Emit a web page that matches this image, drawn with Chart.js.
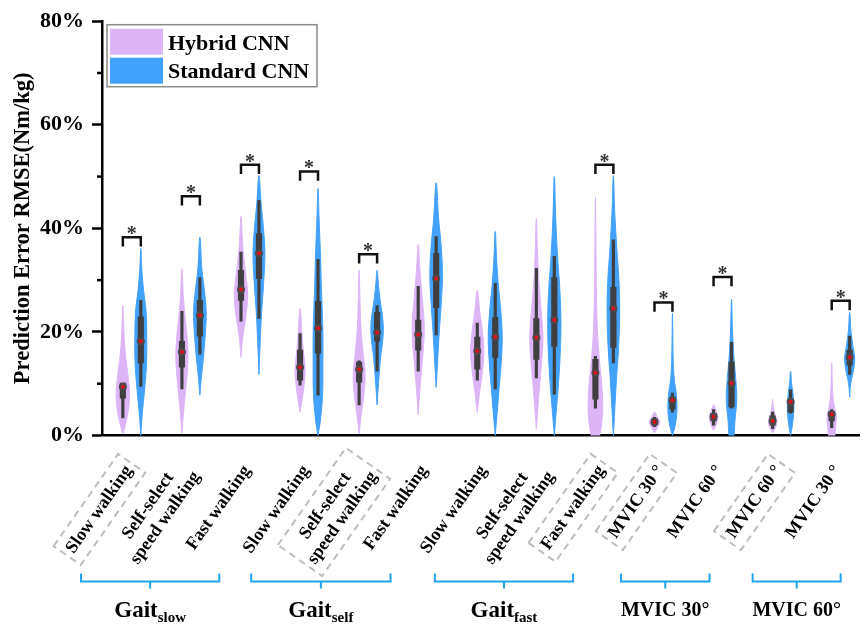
<!DOCTYPE html>
<html lang="en">
<head>
<meta charset="UTF-8">
<title>Prediction Error RMSE</title>
<script src="https://cdn.jsdelivr.net/npm/chart.js"></script>
<style>
  html, body { margin: 0; padding: 0; background: #fff; }
  #wrap { width: 863px; height: 626px; }
</style>
</head>
<body>
<div id="wrap"><canvas id="violinChart" width="863" height="626"></canvas></div>
<script>
// ---- data ----
const categories = [
  'Slow walking', ['Self-select', 'speed walking'], 'Fast walking',
  'Slow walking', ['Self-select', 'speed walking'], 'Fast walking',
  'Slow walking', ['Self-select', 'speed walking'], 'Fast walking',
  'MVIC 30 °', 'MVIC 60 °', 'MVIC 60 °', 'MVIC 30 °'
];
const boxedCategories = [0, 4, 8, 9, 11];
const groupNames = ['Gait', 'Gait', 'Gait', 'MVIC 30°', 'MVIC 60°'];
const groupSubs = ['slow', 'self', 'fast', '', ''];
const seriesNames = ['Hybrid CNN', 'Standard CNN'];
const yTickValues = [0, 20, 40, 60, 80];

// box plot stats (%)
const hybridMedian = [9.4, 16.1, 28.2, 13.2, 12.8, 19.5, 16.3, 18.9, 12.1, 2.6, 3.6, 2.8, 4.1];
const hybridQ1     = [7.2, 13.2, 26.1, 10.7, 10.3, 16.5, 12.8, 14.7, 7.0, 2.0, 2.8, 2.0, 2.8];
const hybridQ3     = [10.1, 18.2, 31.9, 16.5, 14.2, 22.3, 19.0, 22.6, 14.7, 3.2, 4.3, 3.8, 4.6];
const hybridLow    = [3.4, 9.0, 22.1, 9.7, 5.9, 12.4, 10.7, 11.1, 5.3, 1.7, 2.0, 1.3, 1.5];
const hybridHigh   = [10.1, 24.0, 35.4, 19.7, 14.4, 28.8, 21.7, 32.3, 15.3, 3.5, 5.0, 4.5, 5.0];

const standardMedian = [18.2, 23.2, 35.2, 20.7, 19.9, 30.3, 19.0, 22.3, 24.5, 6.8, 10.1, 6.5, 15.1];
const standardQ1     = [14.0, 19.2, 30.3, 15.9, 18.2, 24.7, 15.1, 17.2, 17.0, 5.1, 5.5, 4.5, 13.6];
const standardQ3     = [22.9, 26.1, 39.0, 25.9, 23.8, 35.2, 22.8, 30.5, 28.6, 7.4, 14.2, 7.0, 16.5];
const standardLow    = [9.5, 15.7, 22.6, 7.8, 12.4, 19.4, 9.0, 8.0, 14.0, 4.5, 5.3, 4.3, 11.8];
const standardHigh   = [26.1, 30.5, 45.4, 34.0, 25.1, 38.4, 29.4, 34.6, 37.8, 8.2, 18.0, 8.8, 19.2];

// violin outlines: [value %, relative density]
const hybridShape = [
  [[0.3,0],[2,0.35],[5,0.8],[8.5,0.95],[12,0.7],[16,0.35],[20,0.15],[25.1,0]],
  [[0.5,0],[4,0.2],[9,0.55],[14,0.85],[18,0.8],[23,0.45],[27,0.2],[32.2,0]],
  [[15.1,0],[19,0.25],[23,0.7],[27,0.95],[31,0.7],[35,0.35],[39,0.15],[42.3,0]],
  [[4.5,0],[7,0.3],[10,0.6],[13,0.72],[16,0.5],[19,0.3],[24.5,0]],
  [[0.3,0],[4,0.3],[8,0.7],[12,0.85],[16,0.55],[21,0.25],[26,0.12],[31.9,0]],
  [[4,0],[8,0.2],[13,0.5],[18,0.8],[22,0.85],[27,0.55],[32,0.25],[36.9,0]],
  [[4.5,0],[8,0.3],[12,0.7],[16,0.95],[20,0.75],[24,0.35],[28,0]],
  [[1.3,0],[5,0.2],[10,0.5],[15,0.8],[19,0.95],[24,0.7],[30,0.35],[36,0.15],[41.9,0]],
  [[-2,0],[0,0.6],[3,0.95],[6,1.05],[10,0.9],[15,0.55],[20,0.3],[27,0.15],[35,0.08],[46,0]],
  [[0.5,0],[1.5,0.4],[2.6,0.75],[3.5,0.4],[4.5,0]],
  [[1,0],[2.2,0.4],[3.6,0.6],[4.8,0.35],[5.9,0]],
  [[0.5,0],[1.5,0.4],[2.7,0.6],[4,0.35],[5.5,0.1],[7,0]],
  [[-1.5,0],[0,0.45],[1.5,0.55],[3.5,0.65],[5.5,0.4],[8,0.15],[14,0]]
];
const standardShape = [
  [[0,0],[4,0.2],[9,0.55],[14,0.82],[19,0.85],[24,0.75],[28,0.4],[32,0.15],[36.1,0]],
  [[7.8,0],[11,0.2],[15,0.5],[20,0.8],[24,0.9],[28,0.65],[32,0.3],[38.3,0]],
  [[11.8,0],[17,0.15],[23,0.35],[29,0.65],[35,0.85],[40,0.65],[45,0.3],[50.2,0]],
  [[0,0],[3,0.35],[8,0.65],[14,0.7],[21,0.68],[28,0.5],[35,0.35],[42,0.15],[47.7,0]],
  [[5.9,0],[10,0.2],[15,0.5],[19,0.85],[22,0.85],[26,0.45],[29,0.2],[31.9,0]],
  [[9.3,0],[14,0.2],[20,0.45],[26,0.75],[31,0.9],[36,0.75],[42,0.35],[48.8,0]],
  [[0,0],[4,0.25],[9,0.55],[14,0.85],[19,1.0],[24,0.8],[29,0.45],[34,0.2],[39.4,0]],
  [[0,0],[5,0.3],[10,0.6],[16,0.85],[22,0.95],[28,0.8],[35,0.45],[42,0.2],[50,0]],
  [[0,0],[5,0.2],[11,0.45],[17,0.75],[24,0.9],[30,0.8],[36,0.5],[43,0.2],[50.2,0]],
  [[0,0],[2,0.4],[5,0.65],[8,0.55],[11,0.25],[15,0.1],[23.6,0]],
  [[-2,0],[0,0.35],[3,0.5],[7,0.75],[11,0.6],[15,0.35],[20,0.15],[26.3,0]],
  [[0,0],[2,0.25],[5,0.47],[8,0.35],[10,0.15],[12.4,0]],
  [[7.4,0],[10,0.15],[13,0.6],[15,0.72],[17,0.5],[20,0.2],[23.8,0]]
];

// significance brackets (pair index, bracket height %)
const sigPairs  = [0, 1, 2, 3, 4, 8, 9, 10, 12];
const sigLevels = [38.3, 46.2, 52.3, 51.0, 35.0, 52.3, 25.7, 30.6, 26.0];

// ---- layout / style ----
const SERIF = '"Liberation Serif", "Times New Roman", serif';
const PINK = '#ddb5f7';
const BLUE = '#42a1fa';
const BOX_GREY = '#3f3f3f';
const PAIR_OFFSET = 0.152;   // x units between pair centre and each violin
const WIDTH_UNIT = 0.118;    // x units for density 1
const ARM = 1.8;             // bracket arm length in %
const groupSpans = [[0.14, 2.48], [3.02, 5.38], [6.13, 8.47], [9.28, 10.78], [11.51, 13.0]];

function outline(shape, xc) {
  const right = shape.map(([v, d]) => ({ x: xc + d * WIDTH_UNIT, y: v }));
  const left = shape.slice(0, -1).reverse().map(([v, d]) => ({ x: xc - d * WIDTH_UNIT, y: v }));
  return right.concat(left);
}

const datasets = [];
const series = [
  { shape: hybridShape, med: hybridMedian, q1: hybridQ1, q3: hybridQ3, lo: hybridLow, hi: hybridHigh, color: PINK, off: -PAIR_OFFSET },
  { shape: standardShape, med: standardMedian, q1: standardQ1, q3: standardQ3, lo: standardLow, hi: standardHigh, color: BLUE, off: PAIR_OFFSET }
];

series.forEach((s, si) => {
  s.shape.forEach((shape, i) => {
    datasets.push({
      type: 'line', label: seriesNames[si], data: outline(shape, i + 1 + s.off),
      fill: 'shape', backgroundColor: s.color, borderColor: s.color, borderWidth: 1,
      pointRadius: 0, tension: 0.4, order: 10
    });
  });
  datasets.push({
    type: 'bar', data: s.lo.map((v, i) => ({ x: i + 1 + s.off, y: [v, s.hi[i]] })),
    backgroundColor: BOX_GREY, barThickness: 2.5, maxBarThickness: 2.5, grouped: false, order: 8
  });
  datasets.push({
    type: 'bar', data: s.q1.map((v, i) => ({ x: i + 1 + s.off, y: [v, s.q3[i]] })),
    backgroundColor: BOX_GREY, barThickness: 5.5, maxBarThickness: 5.5, grouped: false, order: 6
  });
  datasets.push({
    type: 'scatter', data: s.med.map((v, i) => ({ x: i + 1 + s.off, y: v })),
    backgroundColor: '#4a4a4a', borderWidth: 0, pointRadius: 4, order: 4
  });
  datasets.push({
    type: 'scatter', data: s.med.map((v, i) => ({ x: i + 1 + s.off, y: v })),
    backgroundColor: '#e0101a', borderWidth: 0, pointRadius: 2, order: 2
  });
});

sigPairs.forEach((p, k) => {
  const top = sigLevels[k];
  const xh = p + 1 - PAIR_OFFSET, xs = p + 1 + PAIR_OFFSET;
  datasets.push({
    type: 'line',
    data: [{ x: xh, y: top - ARM }, { x: xh, y: top }, { x: xs, y: top }, { x: xs, y: top - ARM }],
    borderColor: '#111', borderWidth: 2.5, pointRadius: 0, tension: 0, fill: false, order: 1
  });
});

const decorations = {
  id: 'decorations',
  afterDraw(chart) {
    const { ctx, chartArea: area, scales: { x: xs, y: ys } } = chart;
    ctx.save();

    // minor y ticks
    ctx.strokeStyle = '#000';
    ctx.lineWidth = 2.5;
    [10, 30, 50, 70].forEach(v => {
      const py = ys.getPixelForValue(v);
      ctx.beginPath(); ctx.moveTo(area.left - 5, py); ctx.lineTo(area.left, py); ctx.stroke();
    });

    // significance stars
    ctx.fillStyle = '#333';
    ctx.font = 'bold 20px ' + SERIF;
    ctx.textAlign = 'center';
    ctx.textBaseline = 'alphabetic';
    sigPairs.forEach((p, k) => {
      ctx.fillText('*', xs.getPixelForValue(p + 1), ys.getPixelForValue(sigLevels[k]) + 3);
    });

    // legend
    const lx = area.left + 5, ly = area.top + 3.5;
    ctx.fillStyle = '#fff';
    ctx.fillRect(lx, ly, 210, 62);
    ctx.strokeStyle = '#8a8a8a';
    ctx.lineWidth = 1.5;
    ctx.strokeRect(lx, ly, 210, 62);
    [PINK, BLUE].forEach((c, k) => {
      ctx.fillStyle = c;
      ctx.fillRect(lx + 3, ly + 4 + k * 29, 53, 26);
      ctx.fillStyle = '#000';
      ctx.font = 'bold 22px ' + SERIF;
      ctx.textAlign = 'left';
      ctx.fillText(seriesNames[k], lx + 61, ly + 25 + k * 28);
    });

    // rotated category labels
    const ang = -55 * Math.PI / 180;
    const LH = 21;
    ctx.font = 'bold 18px ' + SERIF;
    categories.forEach((lab, i) => {
      const lines = Array.isArray(lab) ? lab : [lab];
      const w = Math.max(...lines.map(l => ctx.measureText(l).width));
      ctx.save();
      ctx.translate(xs.getPixelForValue(i + 1) - 3, area.bottom + 32);
      ctx.rotate(ang);
      ctx.fillStyle = '#000';
      ctx.textAlign = 'center';
      ctx.textBaseline = 'middle';
      lines.forEach((l, j) => ctx.fillText(l, -w / 2, (j - (lines.length - 1) / 2) * LH));
      if (boxedCategories.includes(i)) {
        ctx.strokeStyle = '#bdbdbd';
        ctx.lineWidth = 2;
        ctx.setLineDash([7, 5]);
        const h = lines.length * LH;
        ctx.strokeRect(-w - 5, -h / 2 - 6, w + 10, h + 12);
      }
      ctx.restore();
    });

    // group brackets and names
    const by = area.bottom + 146;
    groupSpans.forEach(([a, b], g) => {
      const x0 = xs.getPixelForValue(a), x1 = xs.getPixelForValue(b), xm = (x0 + x1) / 2;
      ctx.strokeStyle = '#1ea5ee';
      ctx.lineWidth = 2;
      ctx.beginPath();
      ctx.moveTo(x0, by - 8); ctx.lineTo(x0, by); ctx.lineTo(x1, by); ctx.lineTo(x1, by - 8);
      ctx.moveTo(xm, by); ctx.lineTo(xm, by + 7);
      ctx.stroke();

      ctx.fillStyle = '#000';
      ctx.textBaseline = 'alphabetic';
      if (groupSubs[g]) {
        ctx.font = 'bold 23px ' + SERIF;
        const wm = ctx.measureText(groupNames[g]).width;
        ctx.font = 'bold 15px ' + SERIF;
        const ws = ctx.measureText(groupSubs[g]).width;
        const sx = xm - (wm + ws) / 2;
        ctx.textAlign = 'left';
        ctx.font = 'bold 23px ' + SERIF;
        ctx.fillText(groupNames[g], sx, area.bottom + 181.5);
        ctx.font = 'bold 15px ' + SERIF;
        ctx.fillText(groupSubs[g], sx + wm, area.bottom + 186.5);
      } else {
        ctx.font = 'bold 20px ' + SERIF;
        ctx.textAlign = 'center';
        ctx.fillText(groupNames[g], xm, area.bottom + 180.5);
      }
    });

    ctx.restore();
  }
};

new Chart(document.getElementById('violinChart'), {
  type: 'scatter',
  data: { datasets },
  options: {
    responsive: false,
    animation: false,
    events: [],
    layout: { padding: { top: 20, right: 0, bottom: 190.5, left: 0 } },
    plugins: { legend: { display: false }, tooltip: { enabled: false } },
    scales: {
      x: {
        type: 'linear', min: 0.495, max: 13.31, offset: false,
        ticks: { display: false },
        grid: { display: false, drawTicks: false, offset: false },
        border: { display: true, color: '#000', width: 2.5 }
      },
      y: {
        min: 0, max: 80,
        afterFit: s => { s.width = 102; },
        afterBuildTicks: s => { s.ticks = yTickValues.map(v => ({ value: v })); },
        ticks: {
          padding: 8, color: '#000',
          font: { family: SERIF, size: 22, weight: 'bold' },
          callback: v => v + '%'
        },
        grid: { drawOnChartArea: false, drawTicks: true, tickLength: 10, tickWidth: 2.5, tickColor: '#000' },
        border: { color: '#000', width: 2.5 },
        title: {
          display: true, text: 'Prediction Error RMSE(Nm/kg)', color: '#000',
          font: { family: SERIF, size: 22.5, weight: 'bold' },
          padding: { top: 10, bottom: 0 }
        }
      }
    }
  },
  plugins: [decorations]
});
</script>
</body>
</html>
